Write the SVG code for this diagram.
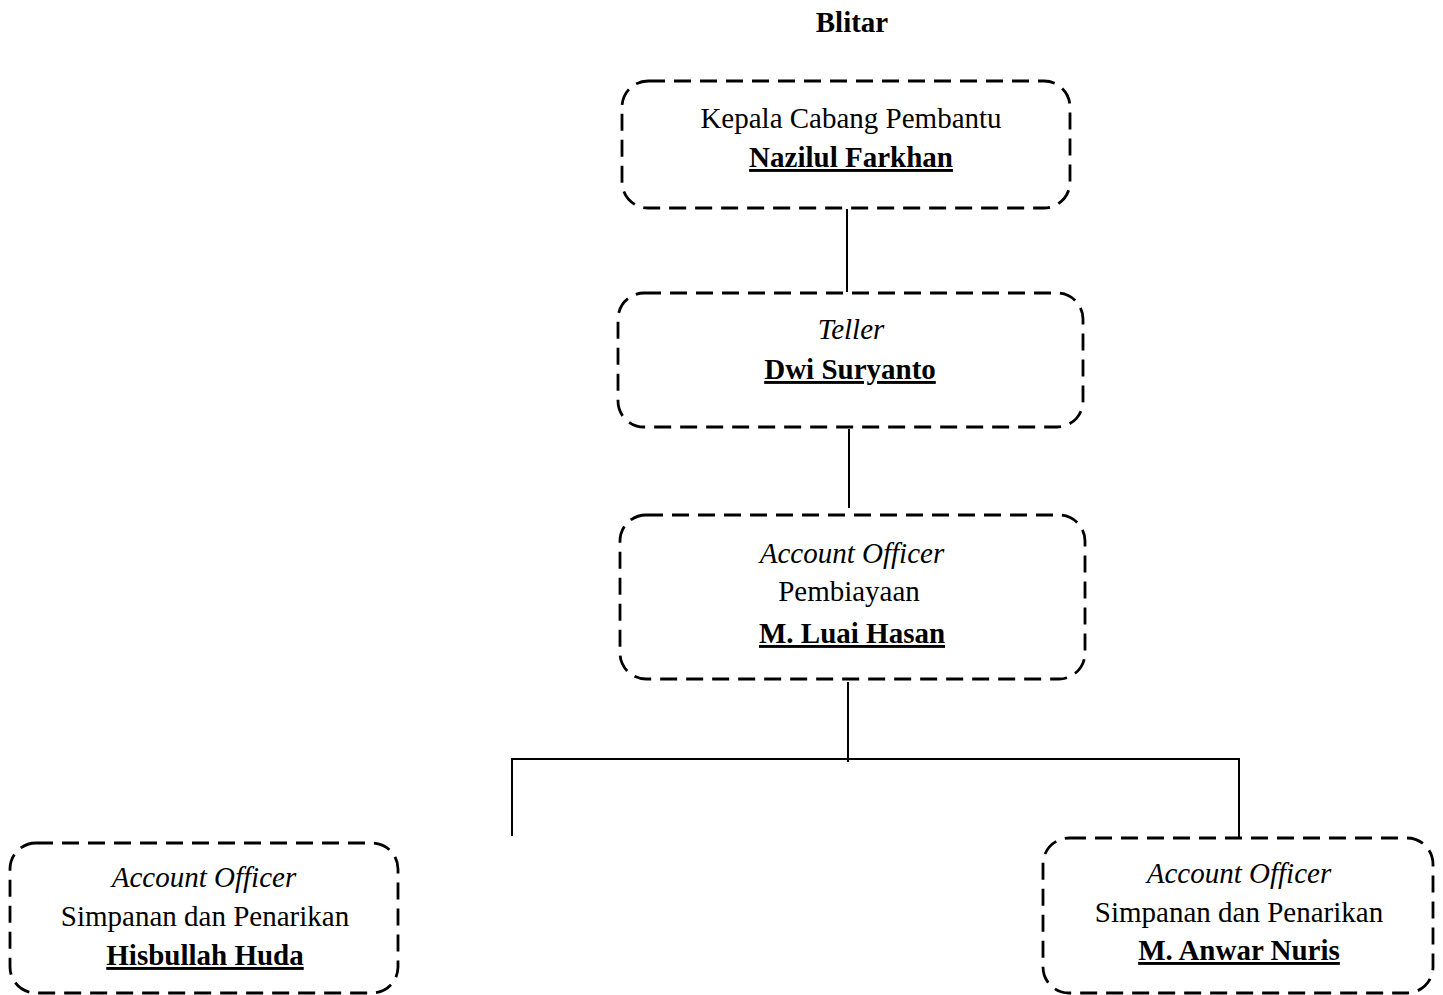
<svg xmlns="http://www.w3.org/2000/svg" width="1443" height="995" viewBox="0 0 1443 995">
<style>
  .box { fill: none; stroke: #000; stroke-width: 2.8; stroke-dasharray: 17 9; }
  .t { font-family: "Liberation Serif", "Times New Roman", serif; font-size: 29px; fill: #000; text-anchor: middle; }
  .b { font-weight: bold; }
  .u { font-weight: bold; text-decoration: underline; }
  .i { font-style: italic; }
  .c { stroke: #000; stroke-width: 2; fill: none; }
</style>
<rect width="1443" height="995" fill="#fff"/>
<text class="t b" x="852" y="32">Blitar</text>
<g id="connectors">
  <line class="c" x1="847" y1="209" x2="847" y2="292"/>
  <line class="c" x1="849" y1="429" x2="849" y2="508"/>
  <line class="c" x1="848" y1="682" x2="848" y2="762"/>
  <line class="c" x1="511" y1="759" x2="1240" y2="759"/>
  <line class="c" x1="512" y1="759" x2="512" y2="836"/>
  <line class="c" x1="1239" y1="759" x2="1239" y2="838"/>
</g>
<g id="kepala">
  <rect class="box" x="622" y="81" width="448" height="127" rx="26"/>
  <text class="t" x="851" y="128">Kepala Cabang Pembantu</text>
  <text class="t u" x="851" y="167">Nazilul Farkhan</text>
</g>
<g id="teller">
  <rect class="box" x="618" y="293" width="465" height="134" rx="26"/>
  <text class="t i" x="851" y="339">Teller</text>
  <text class="t u" x="850" y="379">Dwi Suryanto</text>
</g>
<g id="ao-pembiayaan">
  <rect class="box" x="620" y="515" width="465" height="164" rx="26"/>
  <text class="t i" x="852" y="563">Account Officer</text>
  <text class="t" x="849" y="601">Pembiayaan</text>
  <text class="t u" x="852" y="643">M. Luai Hasan</text>
</g>
<g id="ao-hisbullah">
  <rect class="box" x="10" y="843" width="388" height="150" rx="26"/>
  <text class="t i" x="204" y="887">Account Officer</text>
  <text class="t" x="205" y="926">Simpanan dan Penarikan</text>
  <text class="t u" x="205" y="965">Hisbullah Huda</text>
</g>
<g id="ao-anwar">
  <rect class="box" x="1043" y="838" width="390" height="155" rx="26"/>
  <text class="t i" x="1239" y="883">Account Officer</text>
  <text class="t" x="1239" y="922">Simpanan dan Penarikan</text>
  <text class="t u" x="1239" y="960">M. Anwar Nuris</text>
</g>
</svg>
